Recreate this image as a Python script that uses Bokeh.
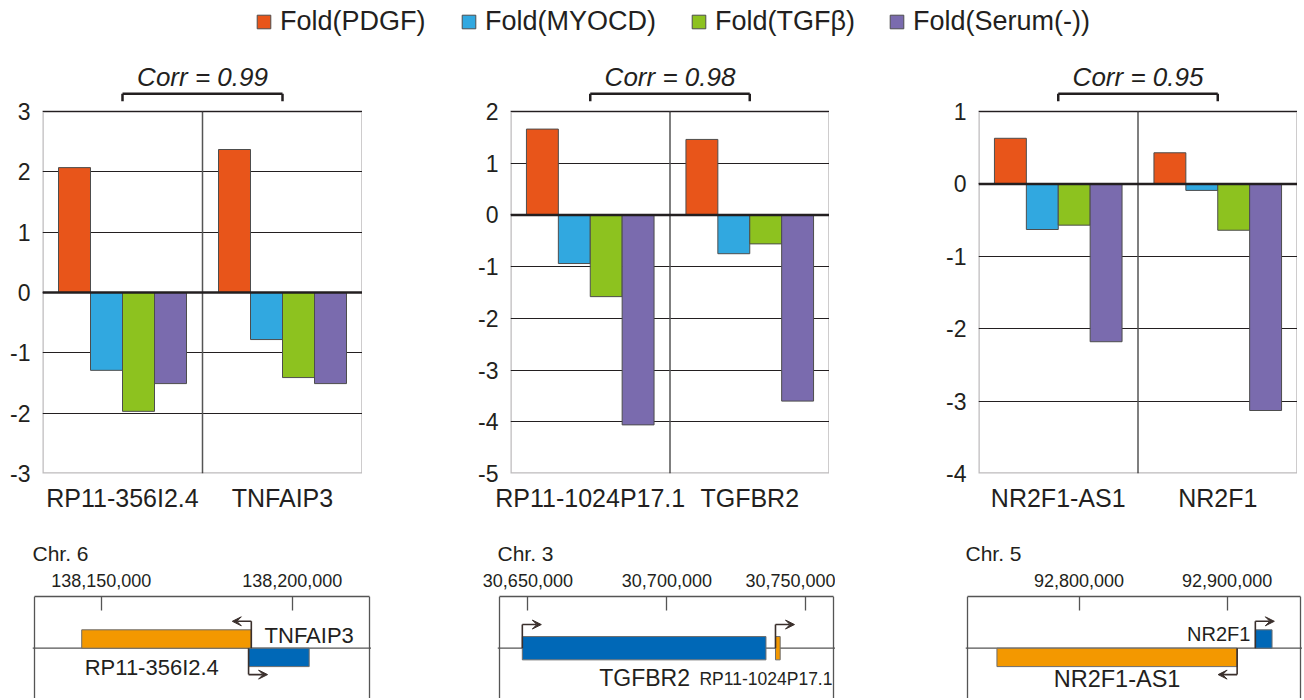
from bokeh.plotting import figure
from bokeh.models import (FactorRange, Range1d, FixedTicker, Span, BoxAnnotation, ColumnDataSource,
                          Legend, LegendItem, Arrow, VeeHead, NumeralTickFormatter)
from bokeh.layouts import column, row
from bokeh.transform import dodge
from bokeh.core.properties import value
from bokeh.embed import file_html
from bokeh.resources import INLINE

# ---------------- data ----------------
conditions = ["Fold(PDGF)", "Fold(MYOCD)", "Fold(TGFβ)", "Fold(Serum(-))"]
cond_colors = ["#E8551A", "#31A8E0", "#8DC21F", "#7A6BAE"]

panel_genes = [["RP11-356I2.4", "TNFAIP3"], ["RP11-1024P17.1", "TGFBR2"], ["NR2F1-AS1", "NR2F1"]]
fold_pdgf = [[2.07, 2.37], [1.66, 1.46], [0.63, 0.43]]
fold_myocd = [[-1.29, -0.78], [-0.94, -0.75], [-0.63, -0.09]]
fold_tgfb = [[-1.97, -1.41], [-1.58, -0.56], [-0.57, -0.64]]
fold_serum = [[-1.51, -1.51], [-4.06, -3.60], [-2.18, -3.13]]
corr_labels = ["Corr = 0.99", "Corr = 0.98", "Corr = 0.95"]
y_limits = [(-3, 3), (-5, 2), (-4, 1)]

chrom_labels = ["Chr. 6", "Chr. 3", "Chr. 5"]
track_starts = [138132540, 30639785, 92724727]
track_ends = [138220240, 30759928, 92949529]
track_ticks = [[138150000, 138200000], [30650000, 30700000, 30750000], [92800000, 92900000]]
track_gene_names = [["RP11-356I2.4", "TNFAIP3"], ["TGFBR2", "RP11-1024P17.1"], ["NR2F1-AS1", "NR2F1"]]
track_gene_starts = [[138144900, 138188581], [30647994, 30739060], [92744600, 92919043]]
track_gene_ends = [[138189300, 138204449], [30735634, 30740750], [92906750, 92930315]]
track_gene_strands = [["-", "+"], ["+", "+"], ["-", "+"]]
track_gene_lanes = [["top", "bottom"], ["center", "center"], ["bottom", "top"]]
track_gene_kinds = [["lnc", "coding"], ["coding", "lnc"], ["lnc", "coding"]]

# ---------------- style / layout ----------------
FONT = "Liberation Sans"
INK = "#231f20"
GRAY = "#555555"
kind_colors = {"lnc": "#F39800", "coding": "#0068B7"}

legend_x = [255, 460, 690, 888]
LEGEND_Y = 11

BOX_PX = 362
TOP_EXTRA_PX = 56
bar_frame_w = [320, 319, 319]
bar_border_left = [42, 148, 149]
offsets = [-0.3, -0.1, 0.1, 0.3]

track_box_px = [335, 334, 333]
track_border_left = [32, 126, 130]
TRACK_PAD_PX = 2
TRACK_FRAME_H = 102
MID_FROM_TOP_PX = 51.7
LANE_PX = 18.4
lane_extent = {"top": (0.0, 1.0), "bottom": (-1.0, 0.0), "center": (-0.633, 0.633)}
arrow_rise_px = {"top": 8.5, "bottom": 8.0, "center": 12.0}
ARROW_LEN_PX = 19
# label style: anchor, dx px, y (lane units), align, font size
label_style = {
    "RP11-356I2.4": ("start", 3, -1.03, "left", "22px"),
    "TNFAIP3": ("start", 16, 0.69, "left", "22px"),
    "TGFBR2": ("end", -76, -1.63, "right", "23px"),
    "RP11-1024P17.1": ("start", -76, -1.70, "left", "17.5px"),
    "NR2F1-AS1": ("center", 0, -1.66, "center", "23.5px"),
    "NR2F1": ("start", -5, 0.78, "right", "20px"),
}

# ---------------- legend ----------------
leg = figure(width=1304, height=48, x_range=Range1d(0, 1), y_range=Range1d(0, 1),
             toolbar_location=None, output_backend="svg", min_border=0, title=None,
             x_axis_location=None, y_axis_location=None)
leg.grid.visible = False
leg.outline_line_color = None
for name, color, lx in zip(conditions, cond_colors, legend_x):
    r = leg.vbar(x=[5], top=[5], bottom=[4], width=0.1, fill_color=color,
                 line_color="#4d4d4d", line_width=1)
    lg = Legend(items=[LegendItem(label=name, renderers=[r])], orientation="horizontal",
                location=(lx, LEGEND_Y), glyph_width=17, glyph_height=17, label_standoff=8,
                padding=0, margin=0, border_line_color=None, background_fill_alpha=0,
                label_text_font=FONT, label_text_font_size="27px", label_text_color=INK)
    leg.add_layout(lg)

# ---------------- bar panels ----------------
series = [fold_pdgf, fold_myocd, fold_tgfb, fold_serum]
bar_figs = []
for i in range(3):
    genes = panel_genes[i]
    ymin, ymax = y_limits[i]
    ppu = BOX_PX / (ymax - ymin)
    p = figure(x_range=FactorRange(*genes), y_range=Range1d(ymin, ymax + TOP_EXTRA_PX / ppu),
               frame_width=bar_frame_w[i], frame_height=BOX_PX + TOP_EXTRA_PX,
               min_border_left=bar_border_left[i], min_border_right=0, min_border_top=7,
               min_border_bottom=47, toolbar_location=None, output_backend="svg", title=None)
    p.outline_line_color = None
    data = dict(gene=genes)
    for k, s in enumerate(series):
        data["c%d" % k] = s[i]
    src = ColumnDataSource(data)
    for k in range(4):
        p.vbar(x=dodge("gene", offsets[k], range=p.x_range), top="c%d" % k, bottom=0, width=0.2,
               source=src, fill_color=cond_colors[k], line_color="#4d4d4d", line_width=1)
    ticks = list(range(ymin, ymax + 1))
    p.yaxis.ticker = FixedTicker(ticks=ticks)
    p.yaxis.major_label_overrides = {t: str(t) for t in ticks}
    p.ygrid.ticker = FixedTicker(ticks=ticks)
    p.ygrid.grid_line_color = INK
    p.ygrid.grid_line_width = 1
    p.xgrid.grid_line_color = None
    for ax in (p.xaxis, p.yaxis):
        ax.axis_line_color = None
        ax.major_tick_line_color = None
        ax.minor_tick_line_color = None
        ax.major_tick_out = 0
        ax.major_tick_in = 0
        ax.major_label_text_font = FONT
        ax.major_label_text_color = INK
    p.yaxis.major_label_text_font_size = "23px"
    p.yaxis.major_label_standoff = 12
    p.xaxis.major_label_text_font_size = "25px"
    p.xaxis.major_label_standoff = 10
    # divider between genes
    dsrc = ColumnDataSource(dict(g=[genes[0]], y0=[ymin], y1=[ymax]))
    p.segment(x0=dodge("g", 0.5, range=p.x_range), x1=dodge("g", 0.5, range=p.x_range),
              y0="y0", y1="y1", source=dsrc, line_color=GRAY, line_width=1.5)
    p.add_layout(Span(location=0, dimension="width", line_color=INK, line_width=2.5))
    p.add_layout(BoxAnnotation(left=0, right=len(genes), bottom=ymin, top=ymax,
                               fill_alpha=0, line_color=INK, line_width=2.5))
    # correlation bracket
    yb = ymax + 17.7 / ppu
    yt = ymax + 10.3 / ppu
    p.segment(x0=[genes[0]], x1=[genes[1]], y0=[yb], y1=[yb], line_color=INK, line_width=2.5)
    p.segment(x0=[genes[0], genes[1]], x1=[genes[0], genes[1]], y0=[yb, yb], y1=[yt, yt],
              line_color=INK, line_width=2.5)
    csrc = ColumnDataSource(dict(g=[genes[0]], y=[ymax + 35 / ppu], t=[corr_labels[i]]))
    p.text(x=dodge("g", 0.5, range=p.x_range), y="y", text="t", source=csrc,
           text_align="center", text_baseline="middle", text_font=value(FONT),
           text_font_style="italic", text_font_size="26px", text_color=INK)
    bar_figs.append(p)

# ---------------- gene tracks ----------------
track_figs = []
for i in range(3):
    s, e = track_starts[i], track_ends[i]
    bpp = (e - s) / track_box_px[i]
    pad = TRACK_PAD_PX * bpp
    ytop = MID_FROM_TOP_PX / LANE_PX
    ybot = -(TRACK_FRAME_H - MID_FROM_TOP_PX) / LANE_PX
    t = figure(x_range=Range1d(s - pad, e + pad), y_range=Range1d(ybot, ytop),
               frame_width=track_box_px[i] + 2 * TRACK_PAD_PX, frame_height=TRACK_FRAME_H,
               min_border_left=track_border_left[i], min_border_right=0, min_border_top=76,
               min_border_bottom=0, x_axis_location="above", y_axis_location=None,
               toolbar_location=None, output_backend="svg", title=chrom_labels[i])
    t.outline_line_color = None
    t.grid.visible = False
    t.title.text_font = FONT
    t.title.text_font_size = "21px"
    t.title.text_font_style = "normal"
    t.title.text_color = INK
    t.title.align = "left"
    t.title.standoff = 11
    ax = t.xaxis[0]
    ax.ticker = FixedTicker(ticks=track_ticks[i])
    ax.formatter = NumeralTickFormatter(format="0,0")
    ax.bounds = (s, e)
    ax.major_tick_in = 14
    ax.major_tick_out = 0
    ax.major_tick_line_color = GRAY
    ax.major_tick_line_width = 1.3
    ax.minor_tick_line_color = None
    ax.axis_line_color = GRAY
    ax.axis_line_width = 1.3
    ax.major_label_text_font = FONT
    ax.major_label_text_font_size = "18px"
    ax.major_label_text_color = INK
    ax.major_label_standoff = 10
    t.add_layout(Span(location=s, dimension="height", line_color=GRAY, line_width=1.3))
    t.add_layout(Span(location=e, dimension="height", line_color=GRAY, line_width=1.3))
    t.add_layout(Span(location=0, dimension="width", line_color=GRAY, line_width=1.3,
                      level="underlay"))
    names = track_gene_names[i]
    bots = [lane_extent[l][0] for l in track_gene_lanes[i]]
    tops = [lane_extent[l][1] for l in track_gene_lanes[i]]
    cols = [kind_colors[k] for k in track_gene_kinds[i]]
    gsrc = ColumnDataSource(dict(l=track_gene_starts[i], r=track_gene_ends[i], b=bots, t=tops, c=cols))
    t.quad(left="l", right="r", bottom="b", top="t", fill_color="c", line_color="#6d6d6d",
           line_width=1, source=gsrc)
    for j, name in enumerate(names):
        gs, ge = track_gene_starts[i][j], track_gene_ends[i][j]
        lane = track_gene_lanes[i][j]
        strand = track_gene_strands[i][j]
        tss = gs if strand == "+" else ge
        d = 1 if strand == "+" else -1
        if lane == "bottom":
            ya = lane_extent[lane][0] - arrow_rise_px[lane] / LANE_PX
        else:
            ya = lane_extent[lane][1] + arrow_rise_px[lane] / LANE_PX
        t.segment(x0=[tss], y0=[0], x1=[tss], y1=[ya], line_color="#3a2f2c", line_width=1.6)
        t.add_layout(Arrow(x_start=tss, y_start=ya, x_end=tss + d * ARROW_LEN_PX * bpp, y_end=ya,
                           line_color="#3a2f2c", line_width=1.6,
                           end=VeeHead(size=9, fill_color="#3a2f2c", line_color="#3a2f2c")))
        anchor, dx, ly, align, fs = label_style[name]
        ax_x = gs if anchor == "start" else (ge if anchor == "end" else (gs + ge) / 2)
        t.text(x=[ax_x], y=[ly], text=[name], x_offset=dx, text_align=align,
               text_baseline="middle", text_font=value(FONT), text_font_size=fs, text_color=INK)
    track_figs.append(t)

layout = column(leg, row(*bar_figs), row(*track_figs))
open("out.html", "w").write(file_html(layout, INLINE))
